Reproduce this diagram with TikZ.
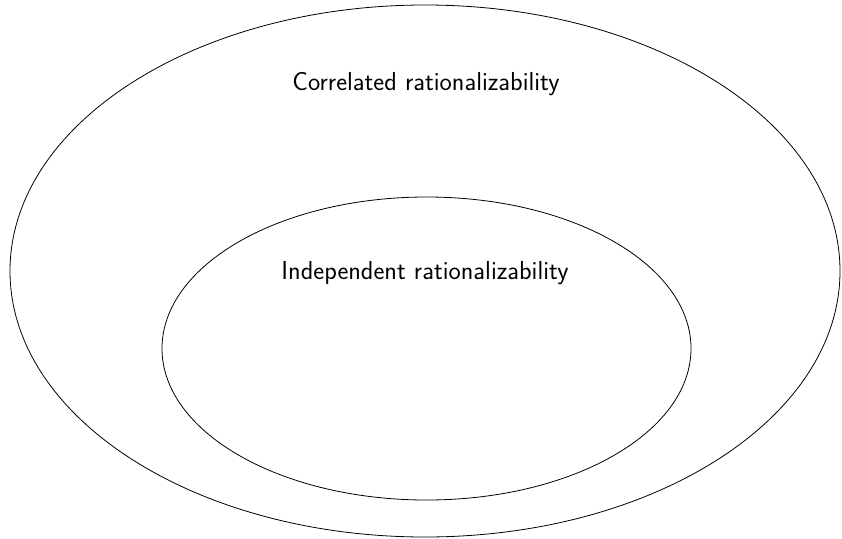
\documentclass[tikz,border=0pt]{standalone}
\begin{document}
\begin{tikzpicture}[x=1pt,y=-1pt,
  setlabel/.style={font=\fontsize{26}{31}\selectfont\sffamily,inner sep=0pt}]
\useasboundingbox (0,0) rectangle (842,538);
\draw[line width=0.8pt] (425,271) ellipse [x radius=415, y radius=266];
\draw[line width=0.8pt] (426.5,348.5) ellipse [x radius=264.5, y radius=151.5];
\node[setlabel] (outer) at (426,84) {Correlated rationalizability};
\node[setlabel] (inner) at (425,273) {Independent rationalizability};
\end{tikzpicture}
\end{document}
